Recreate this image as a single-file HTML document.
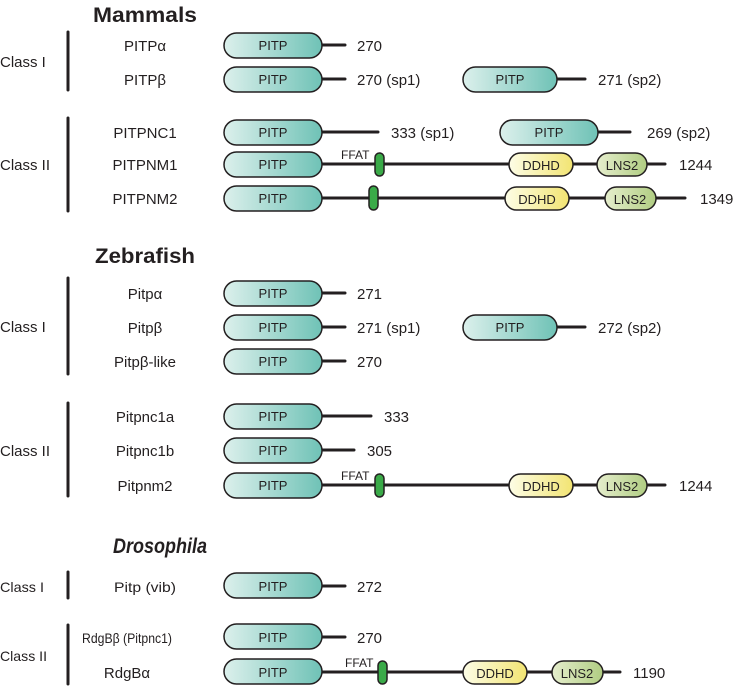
<!DOCTYPE html>
<html><head><meta charset="utf-8"><style>
html,body{margin:0;padding:0;background:#fff;}
svg{display:block;}
text{font-family:"Liberation Sans",sans-serif;fill:#231f20;}
</style></head><body>
<svg width="738" height="686" viewBox="0 0 738 686" xmlns="http://www.w3.org/2000/svg">
<defs>
<linearGradient id="gp" x1="0" x2="1" y1="0" y2="0"><stop offset="0" stop-color="#dcf0ec"/><stop offset="1" stop-color="#6fc2b6"/></linearGradient>
<linearGradient id="gd" x1="0" x2="1" y1="0" y2="0"><stop offset="0" stop-color="#fdfde6"/><stop offset="1" stop-color="#f2e472"/></linearGradient>
<linearGradient id="gl" x1="0" x2="1" y1="0" y2="0"><stop offset="0" stop-color="#e6eecd"/><stop offset="1" stop-color="#b0cd82"/></linearGradient>
</defs>
<g stroke="#231f20" stroke-width="3" fill="none" stroke-linecap="round">
<line x1="68" y1="32" x2="68" y2="90"/>
<line x1="68" y1="118" x2="68" y2="211"/>
<line x1="68" y1="278" x2="68" y2="374"/>
<line x1="68" y1="403" x2="68" y2="496"/>
<line x1="68" y1="572" x2="68" y2="598"/>
<line x1="68" y1="625" x2="68" y2="684"/>
<line x1="320" y1="45" x2="345" y2="45"/>
<line x1="320" y1="79" x2="345" y2="79"/>
<line x1="555" y1="79" x2="585" y2="79"/>
<line x1="320" y1="132" x2="378" y2="132"/>
<line x1="595" y1="132" x2="630" y2="132"/>
<line x1="320" y1="164" x2="665" y2="164"/>
<line x1="320" y1="198" x2="685" y2="198"/>
<line x1="320" y1="293" x2="345" y2="293"/>
<line x1="320" y1="327" x2="345" y2="327"/>
<line x1="555" y1="327" x2="585" y2="327"/>
<line x1="320" y1="361" x2="345" y2="361"/>
<line x1="320" y1="416" x2="371" y2="416"/>
<line x1="320" y1="450" x2="354" y2="450"/>
<line x1="320" y1="485" x2="665" y2="485"/>
<line x1="320" y1="586" x2="345" y2="586"/>
<line x1="320" y1="637" x2="345" y2="637"/>
<line x1="320" y1="672" x2="620" y2="672"/>
</g>
<g stroke="#231f20" stroke-width="1.5">
<rect x="224" y="33" width="98" height="25" rx="12.5" fill="url(#gp)"/>
<rect x="224" y="67" width="98" height="25" rx="12.5" fill="url(#gp)"/>
<rect x="463" y="67" width="94" height="25" rx="12.5" fill="url(#gp)"/>
<rect x="224" y="120" width="98" height="25" rx="12.5" fill="url(#gp)"/>
<rect x="500" y="120" width="98" height="25" rx="12.5" fill="url(#gp)"/>
<rect x="224" y="152" width="98" height="25" rx="12.5" fill="url(#gp)"/>
<rect x="224" y="186" width="98" height="25" rx="12.5" fill="url(#gp)"/>
<rect x="224" y="281" width="98" height="25" rx="12.5" fill="url(#gp)"/>
<rect x="224" y="315" width="98" height="25" rx="12.5" fill="url(#gp)"/>
<rect x="463" y="315" width="94" height="25" rx="12.5" fill="url(#gp)"/>
<rect x="224" y="349" width="98" height="25" rx="12.5" fill="url(#gp)"/>
<rect x="224" y="404" width="98" height="25" rx="12.5" fill="url(#gp)"/>
<rect x="224" y="438" width="98" height="25" rx="12.5" fill="url(#gp)"/>
<rect x="224" y="473" width="98" height="25" rx="12.5" fill="url(#gp)"/>
<rect x="224" y="573" width="98" height="25" rx="12.5" fill="url(#gp)"/>
<rect x="224" y="624" width="98" height="25" rx="12.5" fill="url(#gp)"/>
<rect x="224" y="659" width="98" height="25" rx="12.5" fill="url(#gp)"/>
<rect x="509" y="153" width="64" height="23" rx="11.5" fill="url(#gd)"/>
<rect x="597" y="153" width="50" height="23" rx="11.5" fill="url(#gl)"/>
<rect x="505" y="187" width="64" height="23" rx="11.5" fill="url(#gd)"/>
<rect x="605" y="187" width="51" height="23" rx="11.5" fill="url(#gl)"/>
<rect x="509" y="474" width="64" height="23" rx="11.5" fill="url(#gd)"/>
<rect x="597" y="474" width="50" height="23" rx="11.5" fill="url(#gl)"/>
<rect x="463" y="661" width="64" height="23" rx="11.5" fill="url(#gd)"/>
<rect x="552" y="661" width="51" height="23" rx="11.5" fill="url(#gl)"/>
<rect x="375" y="153" width="9" height="23" rx="4.5" fill="#3aaa48"/>
<rect x="369" y="186" width="9" height="24" rx="4.5" fill="#3aaa48"/>
<rect x="375" y="474" width="9" height="23" rx="4.5" fill="#3aaa48"/>
<rect x="378" y="661" width="9" height="23" rx="4.5" fill="#3aaa48"/>
</g>
<text x="93" y="22" font-size="21" font-weight="bold" textLength="104" lengthAdjust="spacingAndGlyphs">Mammals</text>
<text x="95" y="263" font-size="21" font-weight="bold" textLength="100" lengthAdjust="spacingAndGlyphs">Zebrafish</text>
<text x="113" y="553" font-size="21" font-weight="bold" font-style="italic" textLength="94" lengthAdjust="spacingAndGlyphs">Drosophila</text>
<g font-size="15">
<text x="0" y="67">Class I</text>
<text x="0" y="170">Class II</text>
<text x="0" y="332">Class I</text>
<text x="0" y="456">Class II</text>
<text x="0" y="592" font-size="14" textLength="44" lengthAdjust="spacingAndGlyphs">Class I</text>
<text x="0" y="661" font-size="14" textLength="47" lengthAdjust="spacingAndGlyphs">Class II</text>
</g>
<g font-size="15" text-anchor="middle">
<text x="145" y="51">PITPα</text>
<text x="145" y="85">PITPβ</text>
<text x="145" y="138">PITPNC1</text>
<text x="145" y="170">PITPNM1</text>
<text x="145" y="204">PITPNM2</text>
<text x="145" y="299">Pitpα</text>
<text x="145" y="333">Pitpβ</text>
<text x="145" y="367">Pitpβ-like</text>
<text x="145" y="422">Pitpnc1a</text>
<text x="145" y="456">Pitpnc1b</text>
<text x="145" y="491">Pitpnm2</text>
<text x="145" y="592" font-size="14" textLength="62" lengthAdjust="spacingAndGlyphs">Pitp (vib)</text>
<text x="127" y="643" font-size="14" textLength="90" lengthAdjust="spacingAndGlyphs">RdgBβ (Pitpnc1)</text>
<text x="127" y="678">RdgBα</text>
</g>
<g font-size="13" text-anchor="middle">
<text x="273" y="50">PITP</text><text x="273" y="84">PITP</text><text x="510" y="84">PITP</text>
<text x="273" y="137">PITP</text><text x="549" y="137">PITP</text>
<text x="273" y="169">PITP</text><text x="273" y="203">PITP</text>
<text x="273" y="298">PITP</text><text x="273" y="332">PITP</text><text x="510" y="332">PITP</text>
<text x="273" y="366">PITP</text><text x="273" y="421">PITP</text><text x="273" y="455">PITP</text>
<text x="273" y="490">PITP</text><text x="273" y="591">PITP</text><text x="273" y="642">PITP</text><text x="273" y="677">PITP</text>
<text x="541" y="170">DDHD</text><text x="622" y="170">LNS2</text>
<text x="537" y="204">DDHD</text><text x="630" y="204">LNS2</text>
<text x="541" y="491">DDHD</text><text x="622" y="491">LNS2</text>
<text x="495" y="678">DDHD</text><text x="577" y="678">LNS2</text>
</g>
<g font-size="12">
<text x="341" y="159">FFAT</text>
<text x="341" y="480">FFAT</text>
<text x="345" y="667">FFAT</text>
</g>
<g font-size="15">
<text x="357" y="51">270</text>
<text x="357" y="85">270 (sp1)</text>
<text x="598" y="85">271 (sp2)</text>
<text x="391" y="138">333 (sp1)</text>
<text x="647" y="138">269 (sp2)</text>
<text x="679" y="170">1244</text>
<text x="700" y="204">1349</text>
<text x="357" y="299">271</text>
<text x="357" y="333">271 (sp1)</text>
<text x="598" y="333">272 (sp2)</text>
<text x="357" y="367">270</text>
<text x="384" y="422">333</text>
<text x="367" y="456">305</text>
<text x="679" y="491">1244</text>
<text x="357" y="592">272</text>
<text x="357" y="643">270</text>
<text x="633" y="678">1190</text>
</g>
</svg>
</body></html>
